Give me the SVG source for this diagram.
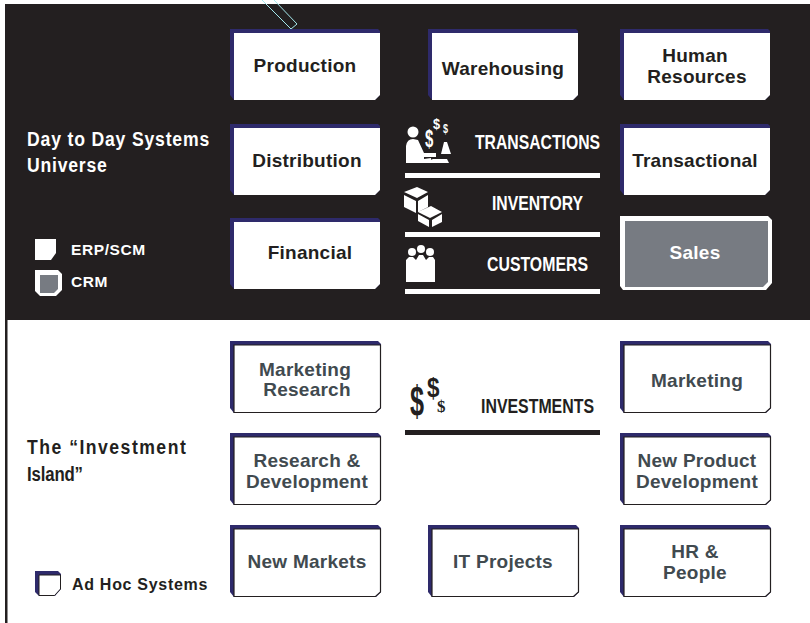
<svg xmlns="http://www.w3.org/2000/svg" width="810" height="623" viewBox="0 0 810 623">
<style>
text{font-family:"Liberation Sans",Arial,sans-serif;font-weight:700}
.n{font-size:19px;letter-spacing:.25px;text-anchor:middle}
.d{fill:#231f20}.g{fill:#414a4f}.w{fill:#fff}
.c{font-size:20.500px;fill:#fff}
.h{font-size:21px}
.l{font-size:15.500px;letter-spacing:.6px}
.bar{fill:#fff}
</style>
<defs>
<g id="box"><path d="M0 0H148L150 2V66L145 71H4L0 66Z" fill="#2e2a6b"/><path d="M4 4H150V66L145 71H4Z" fill="#fff"/></g>
<g id="boxw"><path d="M0 0H148L151 3V67L146 72H4L0 67Z" fill="#2e2a6b"/><path d="M4 4H150.500V67L145.500 71.500H4Z" fill="#fff" stroke="#231f20" stroke-width="1.200"/></g>
</defs>
<rect width="810" height="623" fill="#fff"/>
<rect x="5" y="4" width="805" height="316" fill="#231f20"/>
<rect x="5" y="320" width="2.500" height="303" fill="#231f20"/>
<g id="connectors"><path d="M262 0L291 29L297 24L274 0" fill="none" stroke="#a5e8ec" stroke-width="1"/></g>
<g id="node-production"><use href="#box" x="230" y="29"/><text class="n d" x="305" y="72">Production</text></g>
<g id="node-warehousing"><use href="#box" x="428" y="29"/><text class="n d" x="503" y="75">Warehousing</text></g>
<g id="node-hr"><use href="#box" x="620" y="29"/><text class="n d" x="695" y="62">Human</text><text class="n d" x="697" y="83">Resources</text></g>
<g id="node-distribution"><use href="#box" x="230" y="124"/><text class="n d" x="307" y="167">Distribution</text></g>
<g id="node-transactional"><use href="#box" x="620" y="124"/><text class="n d" x="695" y="167">Transactional</text></g>
<g id="node-financial"><use href="#box" x="230" y="218"/><text class="n d" x="310" y="259">Financial</text></g>
<g id="node-sales"><path d="M620 216H768L772 220V283L766 290H623L620 286Z" fill="#fff"/><path d="M625 221H768V282L763 287H625Z" fill="#777b82"/><text class="n w" x="695" y="259">Sales</text></g>
<g id="label-day"><text class="h w" transform="translate(27 146) scale(.84 1)" textLength="217">Day to Day Systems</text><text class="h w" transform="translate(27 172) scale(.84 1)" textLength="95">Universe</text></g>
<g id="legend-erp"><path d="M35 239H56V253L51 260H35Z" fill="#fff"/><text class="l w" x="71" y="255">ERP/SCM</text></g>
<g id="legend-crm"><path d="M35 270H58L62 274V290L56 296H40L35 291Z" fill="#fff"/><path d="M40 275H58V289L54 293H40Z" fill="#777b82"/><text class="l w" x="71" y="287">CRM</text></g>
<g id="transactions">
<circle cx="413" cy="132" r="5.500" fill="#fff"/>
<path d="M406 163V146Q407 139 413 139L418 140L424 153H436V157H424V159L431 158V163Z M423 163L433 159H447L449 163Z M441 154L444 142H447L451 154Z" fill="#fff"/>
<text transform="translate(425 147) scale(.65 1)" font-size="23" fill="#fff">$</text><text transform="translate(433 129) scale(.85 1)" font-size="15" fill="#fff">$</text><text transform="translate(443 133) scale(.7 1)" font-size="13" fill="#fff">$</text>
<text class="c" x="475" y="148.500" textLength="125" lengthAdjust="spacingAndGlyphs">TRANSACTIONS</text>
<rect class="bar" x="405" y="173" width="195" height="5"/></g>
<g id="inventory">
<path d="M404 192L417 187L428 192L417 198Z M404 195L416 201V213L404 207Z M418 201L428 195V207L418 212Z M418 212L431 206L442 212L430 218Z M418 214L429 220V227L418 221Z M432 220L442 214V222L432 227Z" fill="#fff"/>
<text class="c" x="492" y="210" textLength="91" lengthAdjust="spacingAndGlyphs">INVENTORY</text>
<rect class="bar" x="405" y="232" width="195" height="5"/></g>
<g id="customers">
<circle cx="412" cy="252" r="4" fill="#fff"/><circle cx="421" cy="249" r="4" fill="#fff"/><circle cx="430" cy="252" r="4" fill="#fff"/>
<path d="M406 282V260L409 257H413L416 260L419 255H423L426 260L429 257H433L435 260V282Z" fill="#fff"/>
<text class="c" x="487" y="271" textLength="101" lengthAdjust="spacingAndGlyphs">CUSTOMERS</text>
<rect class="bar" x="405" y="289" width="195" height="5"/></g>
<g id="node-mr"><use href="#boxw" x="230" y="341"/><text class="n g" x="305" y="376">Marketing</text><text class="n g" x="307" y="396">Research</text></g>
<g id="node-marketing"><use href="#boxw" x="620" y="341"/><text class="n g" x="697" y="387">Marketing</text></g>
<g id="node-rd"><use href="#boxw" x="230" y="433"/><text class="n g" x="307" y="467">Research &amp;</text><text class="n g" x="307" y="488">Development</text></g>
<g id="node-npd"><use href="#boxw" x="620" y="433"/><text class="n g" x="697" y="467">New Product</text><text class="n g" x="697" y="488">Development</text></g>
<g id="node-nm"><use href="#boxw" x="230" y="525"/><text class="n g" x="307" y="568">New Markets</text></g>
<g id="node-it"><use href="#boxw" x="428" y="525"/><text class="n g" x="503" y="568">IT Projects</text></g>
<g id="node-hrp"><use href="#boxw" x="620" y="525"/><text class="n g" x="695" y="558">HR &amp;</text><text class="n g" x="695" y="579">People</text></g>
<g id="investments">
<text transform="translate(410 416) scale(.6 1)" font-size="42" fill="#231f20">$</text><text transform="translate(427 397) scale(.8 1)" font-size="28" fill="#231f20">$</text><text x="437" y="412" font-size="17" fill="#231f20" style="font-family:'Liberation Serif',serif">$</text>
<text x="481" y="413" font-size="21" fill="#231f20" textLength="113" lengthAdjust="spacingAndGlyphs">INVESTMENTS</text>
<rect x="405" y="430" width="195" height="5" fill="#231f20"/></g>
<g id="label-island"><text class="h d" transform="translate(27 454) scale(.84 1)" textLength="189">The “Investment</text><text class="h d" transform="translate(27 481) scale(.8 1)" textLength="70">Island”</text></g>
<g id="legend-adhoc"><path d="M35 571H58L61 574V589L55 596H39L35 592Z" fill="#2e2a6b"/><path d="M39 575H60.500V589L54.500 595.500H39Z" fill="#fff" stroke="#231f20" stroke-width="1"/><text class="l d" x="72" y="590" style="font-size:16px;letter-spacing:.7px">Ad Hoc Systems</text></g>
</svg>
